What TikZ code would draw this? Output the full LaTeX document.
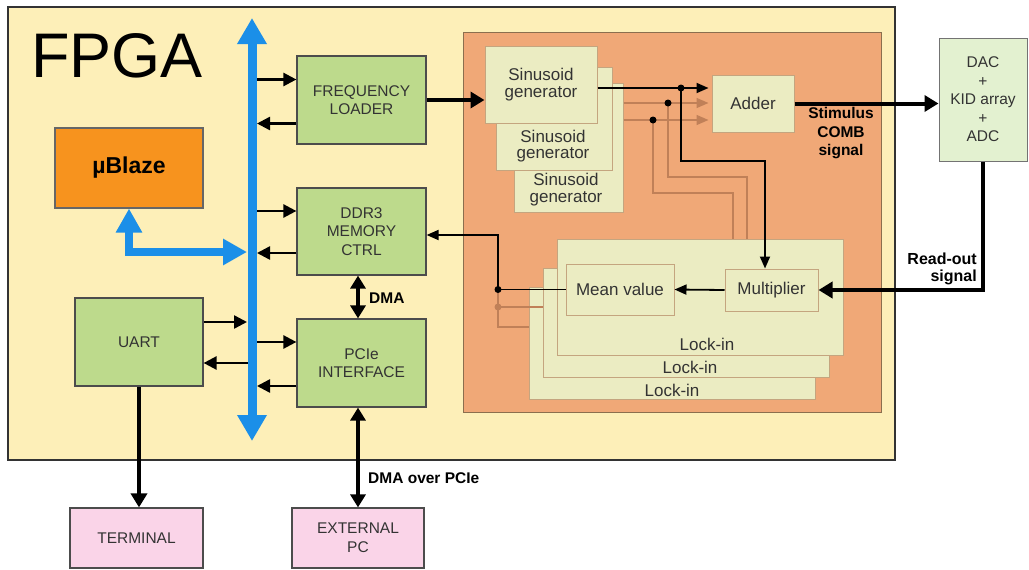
\documentclass[tikz,border=0pt]{standalone}
\usepackage{fontspec}
\setmainfont{Liberation Sans}
\usetikzlibrary{arrows.meta}
\definecolor{fpgabg}{HTML}{FDEFB8}
\definecolor{greenbox}{HTML}{BDDA8C}
\definecolor{ublaze}{HTML}{F7931E}
\definecolor{busblue}{HTML}{1B8FE8}
\definecolor{pinkbox}{HTML}{FAD4E8}
\definecolor{dacbox}{HTML}{E3F1D0}
\definecolor{orangebg}{HTML}{F0A877}
\definecolor{orangeedge}{HTML}{8B6F4E}
\definecolor{cream}{HTML}{EBECC2}
\definecolor{creamedge}{HTML}{C4A57F}
\definecolor{brownline}{HTML}{C08058}
\definecolor{boxtext}{HTML}{333333}
\newcommand\bx[7]{%
  \pgfmathsetmacro\bxcx{(#2+#4)/2}%
  \pgfmathsetmacro\bxcy{(#3+#5)/2}%
  \pgfmathsetmacro\bxw{#4-#2}%
  \pgfmathsetmacro\bxh{#5-#3}%
  \node[#6,minimum width=\bxw pt,minimum height=\bxh pt] (#1) at (\bxcx,\bxcy) {#7};}
\begin{document}
\begin{tikzpicture}[x=1pt,y=-1pt,
  basebox/.style={inner sep=0pt,align=center},
  fpgabox/.style={basebox,fill=fpgabg,draw=black!80,line width=1.5pt},
  orangebox/.style={basebox,fill=orangebg,draw=orangeedge,line width=1pt},
  greenb/.style={basebox,fill=greenbox,draw=black!70,line width=1.2pt,text=boxtext,font=\fontsize{15.5}{18.5}\selectfont},
  ubbox/.style={basebox,fill=ublaze,draw=black!60,line width=1.2pt,font=\bfseries\fontsize{23}{26}\selectfont},
  pinkb/.style={basebox,fill=pinkbox,draw=black!70,line width=1.2pt,text=boxtext,font=\fontsize{15.5}{19}\selectfont},
  dacb/.style={basebox,fill=dacbox,draw=black!55,line width=1pt,text=boxtext,font=\fontsize{15.5}{18.5}\selectfont},
  creamb/.style={basebox,fill=cream,draw=creamedge,line width=1pt,text=boxtext,font=\fontsize{17}{16.5}\selectfont},
  creamtxt/.style={inner sep=0pt,align=center,text=boxtext,font=\fontsize{17}{16.5}\selectfont},
  boldlbl/.style={inner sep=0pt,font=\bfseries\fontsize{15.5}{18.5}\selectfont},
  arr/.style={line width=2.5pt,-{Triangle[length=13pt,width=13pt]}},
  tharr/.style={line width=4pt,-{Triangle[length=14pt,width=16pt]}},
  thdarr/.style={line width=4pt,{Triangle[length=13pt,width=15pt]}-{Triangle[length=13pt,width=15pt]}},
  inarr/.style={line width=1.8pt,-{Triangle[length=12pt,width=10pt]}},
  brarr/.style={line width=1.5pt,brownline,-{Triangle[length=12pt,width=10pt]}},
  brl/.style={line width=1.5pt,brownline},
  busline/.style={line width=9pt,busblue,{Triangle[length=26pt,width=28pt]}-{Triangle[length=26pt,width=28pt]}},
  ubarrow/.style={line width=8pt,busblue,{Triangle[length=24pt,width=25pt]}-{Triangle[length=24pt,width=25pt]}}
]
\useasboundingbox (0,0) rectangle (1029,570);

% FPGA background
\bx{fpga}{8}{7}{895}{460}{fpgabox}{}
\node[anchor=base west,inner sep=0pt,font=\fontsize{63}{63}\selectfont] (fpgalbl) at (31,77) {FPGA};

% orange region
\bx{orange}{463}{32}{881}{412}{orangebox}{}

% left-side blocks
\bx{ub}{55}{128}{203}{208}{ubbox}{µBlaze}
\bx{uart}{75}{298}{203}{386}{greenb}{UART}
\bx{fl}{297}{56}{426}{144}{greenb}{FREQUENCY\\LOADER}
\bx{ddr}{297}{188}{426}{275}{greenb}{DDR3\\MEMORY\\CTRL}
\bx{pcie}{297}{319}{426}{407}{greenb}{PCIe\\INTERFACE}
\bx{term}{70}{508}{203}{568}{pinkb}{TERMINAL}
\bx{ext}{292}{508}{424}{568}{pinkb}{EXTERNAL\\PC}
\bx{dac}{939}{38}{1027}{161}{dacb}{DAC\\+\\KID array\\+\\ADC}

% bus coordinates
\coordinate (bustop) at (252,18);
\coordinate (busbot) at (252,441);
\coordinate (bus) at (252,252);

% arrows between bus and blocks (drawn before the bus)
\draw[arr] ([yshift=20.5pt]fl.west -| bus) -- ([yshift=20.5pt]fl.west);
\draw[arr,shorten >=5pt] ([yshift=-23.5pt]fl.west) -- ([yshift=-23.5pt]fl.west -| bus);
\draw[arr] ([yshift=20.5pt]ddr.west -| bus) -- ([yshift=20.5pt]ddr.west);
\draw[arr,shorten >=5pt] ([yshift=-21.5pt]ddr.west) -- ([yshift=-21.5pt]ddr.west -| bus);
\draw[arr] ([yshift=21pt]pcie.west -| bus) -- ([yshift=21pt]pcie.west);
\draw[arr,shorten >=5pt] ([yshift=-23pt]pcie.west) -- ([yshift=-23pt]pcie.west -| bus);
\draw[arr,shorten >=5pt] ([yshift=20pt]uart.east) -- ([yshift=20pt]uart.east -| bus);
\draw[arr] ([yshift=-21pt]uart.east -| bus) -- ([yshift=-21pt]uart.east);

% bus
\draw[busline] (bustop) -- (busbot);
\draw[ubarrow] (ub.south) |- ([xshift=-5pt]bus);

% DMA arrows and external links
\draw[thdarr] (ddr.south -| ext.north) -- (pcie.north -| ext.north);
\node[boldlbl,anchor=west] (dmalbl) at (369,298) {DMA};
\draw[thdarr] (pcie.south -| ext.north) -- (ext.north);
\node[boldlbl,anchor=west] (dmapcie) at (368,478) {DMA over PCIe};
\draw[tharr] (uart.south) -- (uart.south |- term.north);

% sinusoid generators
\bx{sg3}{514}{83}{623}{212}{creamb}{}
\node[creamtxt] (sg3t) at (566,189.5) {Sinusoid\\generator};
\bx{sg2}{496}{67}{612}{170}{creamb}{}
\node[creamtxt] (sg2t) at (553,146) {Sinusoid\\generator};
\bx{sg1}{485}{46}{597}{123}{creamb}{Sinusoid\\generator}
\bx{adder}{712}{75}{794}{132}{creamb}{Adder}

% lock-ins
\bx{lk3}{529}{287}{815}{399}{creamb}{}
\node[creamtxt] (lk3t) at (672,390) {Lock-in};
\bx{lk2}{543}{268}{829}{377}{creamb}{}
\node[creamtxt] (lk2t) at (690,367.5) {Lock-in};
\bx{lk1}{557}{239}{843}{355}{creamb}{}
\node[creamtxt] (lk1t) at (707,344) {Lock-in};
\bx{meanv}{566}{264}{674}{315}{creamb}{Mean value}
\bx{mult}{725}{269}{818}{311}{creamb}{Multiplier}

% sinusoid output lines
\coordinate (d1) at (681,88);
\coordinate (d2) at (668,103);
\coordinate (d3) at (653,120);
\coordinate (c1) at (765,161);
\coordinate (c2) at (747,177);
\coordinate (c3) at (733,193);
\draw[brl] (d3) |- (c3) -- (c3 |- lk1.north);
\draw[brl] (d2) |- (c2) -- (c2 |- lk1.north);
\draw[brarr,shorten >=3pt] (sg3.east |- d3) -- (d3 -| adder.west);
\draw[brarr,shorten >=3pt] (sg3.east |- d2) -- (d2 -| adder.west);
\fill (d3) circle (3.5pt);
\fill (d2) circle (3.5pt);
\draw[inarr,shorten >=3pt] (sg1.east |- d1) -- (d1 -| adder.west);
\draw[inarr] (d1) |- (c1) -- (c1 |- mult.north);
\fill (d1) circle (3.5pt);

% lock-in lines
\coordinate (j1) at (498,289.5);
\coordinate (j2) at (498,307);
\coordinate (j3) at (498,327);
\draw[brl] (lk3.west |- j3) -- (j3) -- (j1);
\draw[brl] (lk2.west |- j2) -- (j2);
\fill[brownline] (j2) circle (3.5pt);
\draw[inarr] (mult.west) -- (meanv.east);
\draw[inarr] (meanv.west) -- (j1) |- ([yshift=-3.5pt]ddr.east);
\fill (j1) circle (3.5pt);

% thick signal arrows
\draw[tharr] (fl.east) -- (fl.east -| sg1.west);
\draw[tharr] (adder.east) -- (adder.east -| dac.west);
\draw[tharr] (dac.south) |- (mult.east);

% labels
\node[boldlbl,align=center] (stim) at (841,133.5) {Stimulus\\COMB\\signal};
\node[boldlbl,align=right,anchor=east,font=\bfseries\fontsize{16}{17}\selectfont] (readout) at (977,268.5) {Read-out\\signal};
\end{tikzpicture}
\end{document}
